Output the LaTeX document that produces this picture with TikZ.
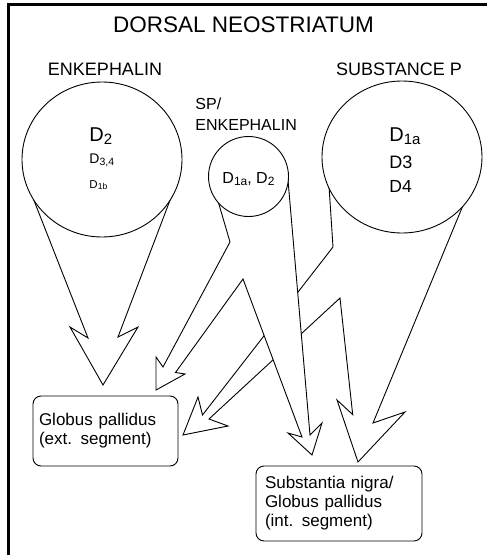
\documentclass[tikz,border=0pt]{standalone}
\usepackage{fontspec}
\setmainfont{Liberation Sans}
\usepackage{tikz}
\usetikzlibrary{shapes.geometric}
\newcommand{\taille}[2]{\fontsize{#1}{#2}\selectfont}
\newcommand{\ind}[1]{\raisebox{-0.3ex}{\scalebox{0.75}{#1}}}

\begin{document}
\begin{tikzpicture}[x=1pt, y=-1pt, line width=0.9pt,
  zone/.style={draw, fill=white, inner sep=0pt},
  fleche/.style={draw, fill=white, line join=miter},
  cible/.style={draw, rounded corners=8pt, align=left, font=\taille{17}{19}},
  rec/.style={anchor=base west, inner sep=0pt}]
  \useasboundingbox (0,0) rectangle (487,555);
  % Cadre
  \draw[line width=2.5pt] (8.5,555) -- (8.5,4.5) -- (487,4.5);
  % Titres
  \node[anchor=base, font=\taille{22.5}{26}] (titre) at (243.5,32) {DORSAL NEOSTRIATUM};
  \node[anchor=base, font=\taille{18}{21}] (tEnk) at (105,75) {ENKEPHALIN};
  \node[anchor=base, font=\taille{18}{21}] (tSP) at (399,75) {SUBSTANCE P};
  \node[anchor=north west, inner sep=0pt, align=left, font=\taille{16}{21}] (tMix)
    at (195,97) {SP/\\ENKEPHALIN};
  % Centres
  \coordinate (cEnk) at (102,159.5);
  \coordinate (cMix) at (248.5,176.5);
  \coordinate (cSP) at (402,157);
  % Fleche SUBSTANCE P (derriere)
  \draw[fleche] (329,186) -- (333,247) -- (202.5,415) -- (198,397) -- (183,435)
    -- (228,426) -- (209,419) -- (340,298) -- (352.7,414.6) -- (337,400)
    -- (358,462) -- (405,412) -- (373,423) -- (464,203) -- (cSP) -- cycle;
  % Fleche SP/ENKEPHALIN
  \draw[fleche] (218,201) -- (230,242) -- (163,367) -- (156,357) -- (156,390)
    -- (185,374) -- (175.5,372.5) -- (243,279) -- (302,437) -- (288,433)
    -- (312,455) -- (322,423) -- (310,435) -- (288,180) -- (cMix) -- cycle;
  % Fleche ENKEPHALIN
  \draw[fleche] (33,198) -- (88,338) -- (70,327) -- (103,385) -- (138,327)
    -- (118,337) -- (172,195) -- (cEnk) -- cycle;
  % Cercles
  \node[zone, ellipse, minimum width=160pt, minimum height=155pt] (enk) at (cEnk) {};
  \node[zone, circle, minimum size=80pt] (mix) at (cMix) {};
  \node[zone, ellipse, minimum width=160pt, minimum height=152pt] (sp) at (cSP) {};
  % Recepteurs
  \node[rec, font=\taille{20}{24}] (d2) at (89,141) {D\ind{2}};
  \node[rec, font=\taille{14}{17}] (d34) at (89,163) {D\ind{3,4}};
  \node[rec, font=\taille{11.5}{14}] (d1b) at (89,188) {D\ind{1b}};
  \node[rec, font=\taille{16}{19}] (dMix) at (222,183) {D\ind{1a}, D\ind{2}};
  \node[rec, font=\taille{20}{24}] (d1a) at (389,141) {D\ind{1a}};
  \node[rec, font=\taille{18}{21}] (d3) at (389,168) {D3};
  \node[rec, font=\taille{17.5}{21}] (d4) at (389,192) {D4};
  % Cibles
  \node[cible, text width=133pt, inner xsep=6pt, minimum height=70pt] (gpe)
    at (105.5,431) {Globus pallidus\\(ext. segment)};
  \node[cible, text width=148pt, inner xsep=9pt, minimum height=75pt] (snr)
    at (339,503.5) {Substantia nigra/\\Globus pallidus\\(int. segment)};
\end{tikzpicture}
\end{document}
